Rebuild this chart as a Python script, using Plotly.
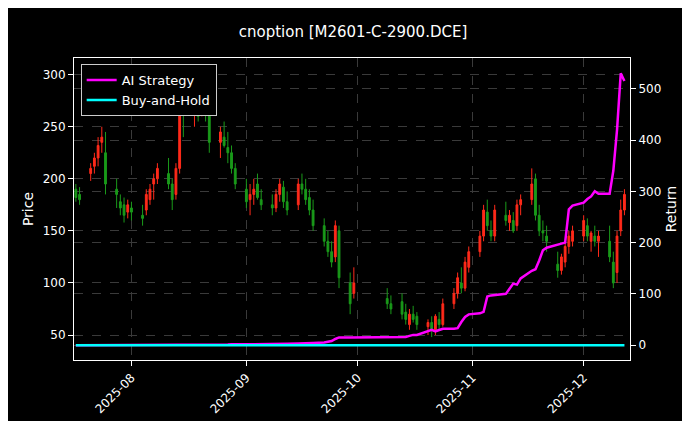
import pandas as pd
import plotly.graph_objects as go

dates = ["2025-07-17","2025-07-18","2025-07-21","2025-07-22","2025-07-23","2025-07-24","2025-07-25","2025-07-28","2025-07-29","2025-07-30","2025-07-31",
"2025-08-01","2025-08-04","2025-08-05","2025-08-06","2025-08-07","2025-08-08","2025-08-11","2025-08-12","2025-08-13","2025-08-14","2025-08-15",
"2025-08-18","2025-08-19","2025-08-20","2025-08-21","2025-08-22","2025-08-25","2025-08-26","2025-08-27","2025-08-28","2025-08-29",
"2025-09-01","2025-09-02","2025-09-03","2025-09-04","2025-09-05","2025-09-08","2025-09-09","2025-09-10","2025-09-11","2025-09-12",
"2025-09-15","2025-09-16","2025-09-17","2025-09-18","2025-09-19","2025-09-22","2025-09-23","2025-09-24","2025-09-25","2025-09-26","2025-09-29","2025-09-30",
"2025-10-09","2025-10-10","2025-10-13","2025-10-14","2025-10-15","2025-10-16","2025-10-17","2025-10-20","2025-10-21","2025-10-22","2025-10-23","2025-10-24",
"2025-10-27","2025-10-28","2025-10-29","2025-10-30","2025-10-31","2025-11-03","2025-11-04","2025-11-05","2025-11-06","2025-11-07",
"2025-11-10","2025-11-11","2025-11-12","2025-11-13","2025-11-14","2025-11-17","2025-11-18","2025-11-19","2025-11-20","2025-11-21",
"2025-11-24","2025-11-25","2025-11-26","2025-11-27","2025-11-28","2025-12-01","2025-12-02","2025-12-03","2025-12-04","2025-12-05",
"2025-12-08","2025-12-09","2025-12-10","2025-12-11","2025-12-12"]

ohlc = [(190,195,178,182),(185,192,175,180),(205,215,198,210),(212,225,205,220),(220,240,212,232),(235,250,225,240),(225,245,185,195),
(190,200,172,185),(178,185,165,172),(175,182,158,165),(168,180,162,175),(172,178,160,168),(165,175,155,162),(170,190,165,185),
(180,195,175,190),(195,205,180,200),(200,215,195,210),(205,220,190,195),(195,200,170,180),(185,215,180,210),(210,300,205,280),
(280,290,240,265),(262,290,250,280),(275,285,255,260),(265,290,260,282),(280,285,255,262),(262,270,225,235),(235,250,220,245),
(240,255,230,232),(230,245,215,225),(225,232,205,210),(210,215,190,195),(190,200,172,178),(180,195,165,185),(185,200,175,190),
(195,205,180,182),(180,190,170,175),(175,185,165,172),(172,190,168,185),(185,200,178,195),(192,198,172,178),(178,188,165,170),
(175,200,170,195),(195,205,185,190),(190,200,175,180),(182,190,165,170),(170,180,150,155),(155,162,135,140),(140,150,125,130),
(130,140,115,120),(125,160,120,155),(150,155,95,105),(100,110,70,80),(90,115,85,100),(85,95,75,80),(80,88,70,75),(82,90,65,70),
(72,80,60,65),(60,75,55,70),(70,78,62,65),(68,72,55,60),(58,65,50,62),(62,68,48,55),(55,70,50,68),(65,72,55,60),(60,85,58,80),
(80,95,75,90),(90,110,85,105),(100,115,90,95),(95,125,92,120),(115,135,110,130),(130,150,125,145),(145,175,140,170),(168,180,150,155),
(150,160,140,145),(145,175,140,170),(165,178,155,160),(158,170,150,165),(160,168,148,150),(155,180,150,175),(175,185,165,180),
(180,210,175,195),(200,205,160,165),(165,175,145,150),(150,160,140,148),(145,155,130,140),(118,130,105,112),(112,128,108,125),
(120,140,115,135),(135,150,128,145),(140,155,135,150),(145,165,140,160),(155,162,140,145),(140,150,130,148),(145,155,135,140),
(140,150,125,145),(140,155,120,125),(120,130,95,100),(110,150,100,145),(150,180,145,170),(170,190,165,185)]
opens = [v[0] for v in ohlc]; highs = [v[1] for v in ohlc]; lows = [v[2] for v in ohlc]; closes = [v[3] for v in ohlc]

ai_return = [0,0,0,0,0,0,0.5,0.5,0.5,0.5,0.5,0.5,0.5,0.5,1,1,1,1,1,1,1,1,1,1,1,1,1,1,1,1,1.5,1.5,
1.5,1.5,1.5,2,2,2,2,2,2.5,2.5,3,3,3,3.5,4,5,6,8,12,15,15,15,
15,15,16,16,18,20,20,28,30,27,30,32,32,33,45,55,60,62,65,95,97,98,100,110,120,118,130,
145,148,165,185,190,195,198,200,265,272,278,285,290,300,295,295,340,420,530,515]
bh_return = [0]*len(dates)

fig = go.Figure()
fig.add_trace(go.Candlestick(x=dates, open=opens, high=highs, low=lows, close=closes,
    increasing=dict(line=dict(color="#ff2a1a", width=1), fillcolor="#ff2a1a"),
    decreasing=dict(line=dict(color="#1a9a1a", width=1), fillcolor="#1a9a1a"),
    whiskerwidth=0, showlegend=False))
fig.add_trace(go.Scatter(x=dates, y=ai_return, mode="lines", name="AI Strategy",
    line=dict(color="#ff00ff", width=2.5), yaxis="y2"))
fig.add_trace(go.Scatter(x=dates, y=bh_return, mode="lines", name="Buy-and-Hold",
    line=dict(color="#00ffff", width=2.5), yaxis="y2"))

grid = dict(showgrid=True, gridcolor="#3a3a3a", griddash="dash", gridwidth=0.6)
fig.update_layout(
    width=690, height=421, paper_bgcolor="black", plot_bgcolor="black",
    font=dict(family="DejaVu Sans", color="white", size=12),
    title=dict(text="cnoption [M2601-C-2900.DCE]", x=0.5, xanchor="center", y=0.955, font=dict(size=15)),
    margin=dict(l=66, r=68, t=50, b=69),
    xaxis=dict(range=["2025-07-16 12:00", "2025-12-13 12:00"], rangeslider=dict(visible=False),
               tickformat="%Y-%m", tickangle=-45, dtick="M1", tick0="2025-08-01",
               showline=True, linecolor="white", mirror=True, ticks="outside", tickcolor="white", **grid),
    yaxis=dict(title=dict(text="Price", standoff=5), range=[26, 316], tickvals=[50,100,150,200,250,300],
               showline=True, linecolor="white", mirror=True, ticks="outside", tickcolor="white", zeroline=False, **grid),
    yaxis2=dict(title=dict(text="Return", standoff=5), overlaying="y", side="right", range=[-29, 560],
                tickvals=[0,100,200,300,400,500], zeroline=False,
                ticks="outside", tickcolor="white", **grid),
    legend=dict(x=0.012, y=0.98, xanchor="left", yanchor="top", bgcolor="black",
                bordercolor="#cccccc", borderwidth=1, font=dict(size=13)),
)
fig.write_html("out.html")
